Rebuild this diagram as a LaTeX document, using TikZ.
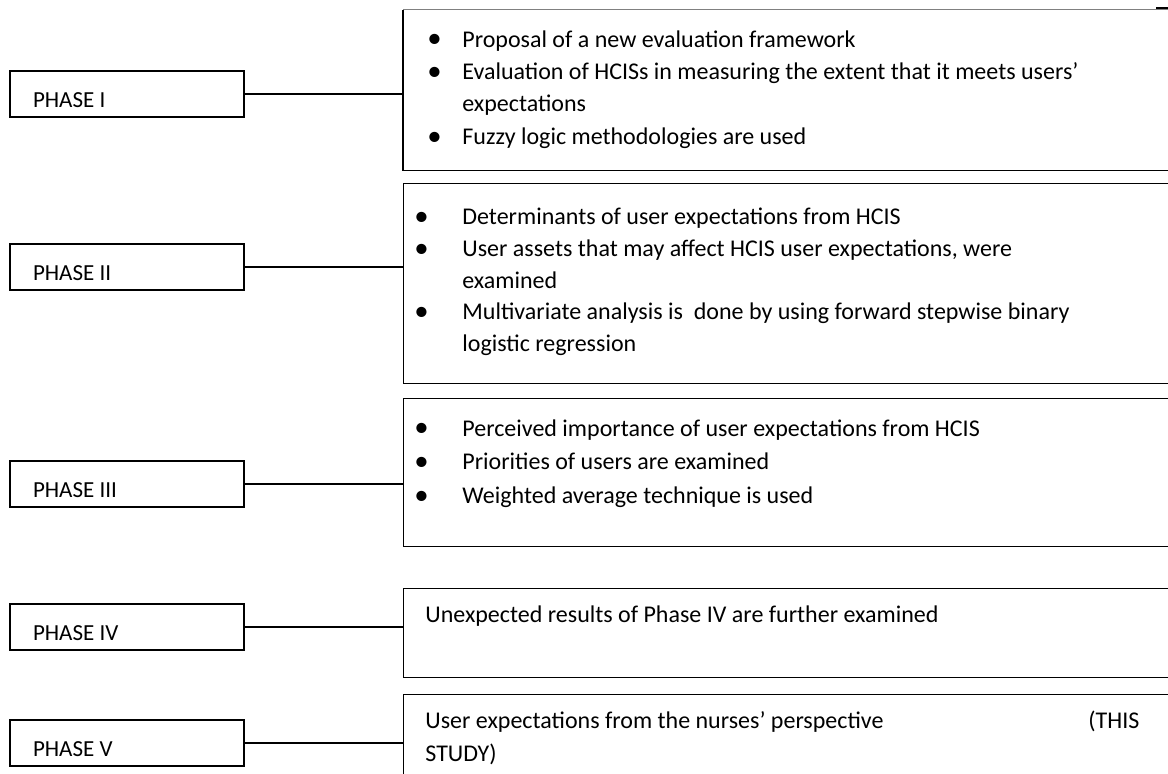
\documentclass[tikz,border=0pt]{standalone}
\usepackage{fontspec}
\usepackage{graphicx}
\setmainfont{Carlito}
\newcommand{\bigdot}{\raisebox{-0.4pt}{\scalebox{1.2}{\textbullet}}}
\newcommand{\bulA}{\makebox[17.5pt][l]{\bigdot}}
\newcommand{\bulB}{\makebox[24pt][l]{\bigdot}}

\begin{document}
\begin{tikzpicture}[x=0.5pt,y=-0.5pt,
    phasebox/.style={draw,line width=1pt,anchor=north west,inner xsep=11.5pt,inner ysep=0pt,
      text width=94pt,align=flush left,text height=18.5pt,text depth=4.5pt,font=\fontsize{11.5}{16}\selectfont},
    descbox/.style={draw,line width=0.7pt,anchor=north west,minimum width=410pt,inner sep=0pt},
    desctext/.style={anchor=north west,inner sep=0pt,align=flush left,font=\fontsize{12}{16.2}\selectfont},
    link/.style={line width=0.8pt}]
    \useasboundingbox (0,0) rectangle (1168,774);

    % phases on the left
    \node[phasebox] (phaseI) at (9, 70) {PHASE I};
    \node[phasebox] (phaseII) at (9, 243) {PHASE II};
    \node[phasebox] (phaseIII) at (9, 460) {PHASE III};
    \node[phasebox] (phaseIV) at (9, 603) {PHASE IV};
    \node[phasebox] (phaseV) at (9, 719) {PHASE V};

    % boxes on the right
    \node[descbox,draw=none,minimum height=79.5pt] (descI) at (403, 10) {};
    \node[descbox,minimum height=100pt] (descII) at (403, 183) {};
    \node[descbox,minimum height=74pt] (descIII) at (403, 398) {};
    \node[descbox,minimum height=44.5pt] (descIV) at (403, 588) {};
    \node[descbox,minimum height=60pt] (descV) at (403, 694) {};
    \draw[gray,line width=0.5pt] (descI.north west) -- (descI.north east);
    \draw[line width=0.7pt] (descI.north west) -- (descI.south west) -- (descI.south east);
    \draw[line width=1.2pt] (1156, 8) -- (1168, 8);

    \node[desctext] (textI) at (427, 30) {\bulA Proposal of a new evaluation framework\\
        \bulA Evaluation of HCISs in measuring the extent that it meets users’\\
        \hspace*{17.5pt}expectations\\
        \bulA Fuzzy logic methodologies are used};
    \node[desctext,font=\fontsize{12}{15.8}\selectfont] (textII) at (414, 208) {\bulB Determinants of user expectations from HCIS\\
        \bulB User assets that may affect HCIS user expectations, were\\
        \hspace*{24pt}examined\\
        \bulB Multivariate analysis is \ done by using forward stepwise binary\\
        \hspace*{24pt}logistic regression};
    \node[desctext,font=\fontsize{12}{16.8}\selectfont] (textIII) at (414, 419) {\bulB Perceived importance of user expectations from HCIS\\
        \bulB Priorities of users are examined\\
        \bulB Weighted average technique is used};
    \node[desctext] (textIV) at (425, 605) {Unexpected results of Phase IV are further examined};
    \node[desctext,text width=357pt] (textV) at (425, 711) {User expectations from the nurses’ perspective\hfill(THIS\\
        STUDY)};

    % links
    \draw[link] (phaseI.east) -- (phaseI.east -| descI.west);
    \draw[link] (phaseII.east) -- (phaseII.east -| descII.west);
    \draw[link] (phaseIII.east) -- (phaseIII.east -| descIII.west);
    \draw[link] (phaseIV.east) -- (phaseIV.east -| descIV.west);
    \draw[link] (phaseV.east) -- (phaseV.east -| descV.west);
\end{tikzpicture}
\end{document}
